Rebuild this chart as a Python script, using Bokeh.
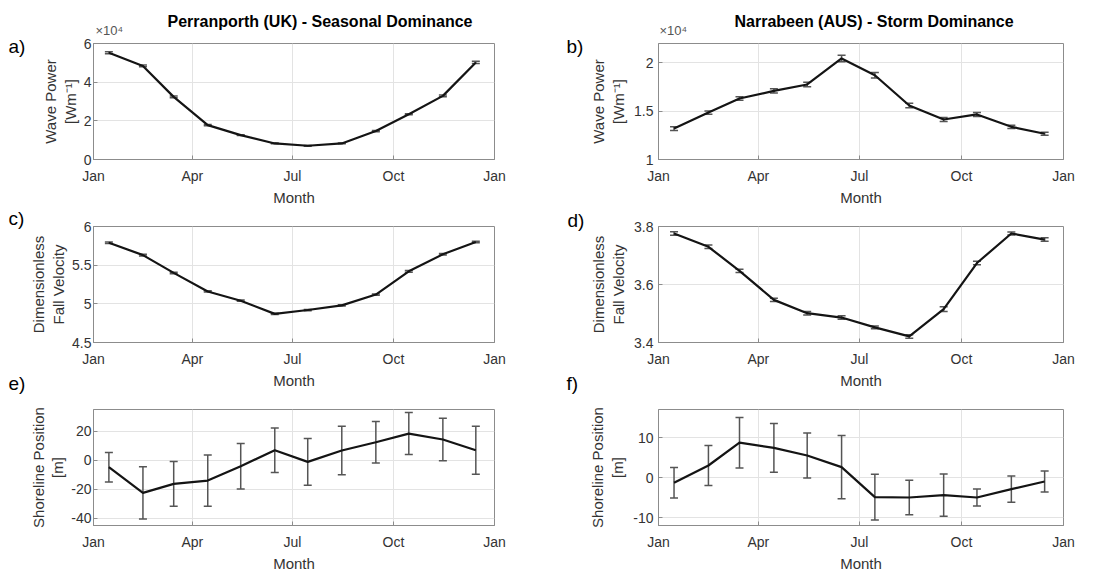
import pandas as pd
from bokeh.plotting import figure
from bokeh.models import (ColumnDataSource, FixedTicker, Label,
                          Range1d, Whisker, TeeHead)
from bokeh.layouts import column, row
from bokeh.embed import file_html
from bokeh.resources import INLINE

# ---------------- data ----------------
month_numbers = [1, 2, 3, 4, 5, 6, 7, 8, 9, 10, 11, 12]
tick_months = [1, 4, 7, 10, 13]
tick_month_labels = ["Jan", "Apr", "Jul", "Oct", "Jan"]

# Perranporth (UK) wave power [W m^-1]
perran_power = [55200, 48400, 32400, 17800, 12600, 8300, 7100, 8300, 14700, 23400, 32900, 50200]
perran_power_err = [500, 450, 400, 300, 250, 200, 200, 200, 300, 300, 400, 600]
# Narrabeen (AUS) wave power [W m^-1]
narra_power = [13200, 14860, 16310, 17100, 17760, 20450, 18720, 15590, 14140, 14660, 13380, 12660]
narra_power_err = [200, 170, 190, 210, 230, 330, 280, 230, 200, 200, 170, 150]
# Dimensionless fall velocity
perran_omega = [5.79, 5.63, 5.40, 5.16, 5.04, 4.87, 4.92, 4.98, 5.12, 5.42, 5.64, 5.80]
perran_omega_err = [0.010, 0.010, 0.010, 0.008, 0.008, 0.008, 0.008, 0.008, 0.008, 0.010, 0.010, 0.010]
narra_omega = [3.776, 3.730, 3.647, 3.547, 3.501, 3.486, 3.452, 3.421, 3.515, 3.674, 3.776, 3.755]
narra_omega_err = [0.006, 0.006, 0.006, 0.006, 0.006, 0.006, 0.005, 0.006, 0.008, 0.006, 0.005, 0.006]
# Shoreline position [m]
perran_shore = [-4.8, -22.5, -16.3, -14.0, -4.1, 6.9, -1.1, 6.7, 12.4, 18.4, 14.3, 6.9]
perran_shore_err = [10.2, 18.0, 15.4, 17.7, 15.7, 15.3, 16.1, 16.7, 14.3, 14.5, 14.6, 16.6]
narra_shore = [-1.3, 3.0, 8.7, 7.4, 5.5, 2.6, -4.9, -5.0, -4.4, -5.0, -2.9, -1.0]
narra_shore_err = [3.8, 5.0, 6.3, 6.1, 5.6, 7.9, 5.7, 4.3, 5.3, 2.1, 3.3, 2.6]

titles = ["Perranporth (UK) - Seasonal Dominance", "Narrabeen (AUS) - Storm Dominance"]
multiplier = "\u00d710\u2074"
left_letters = ["a)", "c)", "e)"]
right_letters = ["b)", "d)", "f)"]

# x positions: day of year of the 15th of each month
x_days = [pd.Timestamp(2001, m, 15).dayofyear - 1 for m in month_numbers]
x_ticks = [pd.Timestamp(2001, m, 1).dayofyear - 1 if m <= 12 else 365 for m in tick_months]

TXT = "#333333"
FONT = "Liberation Sans"
HEAD = 36


def make_panel(y, err, yr, yticks, ylabels, ylabel, width, height, left, right, top, bottom,
               side="left"):
    p = figure(width=width, height=height, output_backend="svg", toolbar_location=None,
               x_range=Range1d(0, 365), y_range=Range1d(*yr), title_location=None,
               min_border_left=left, min_border_right=right,
               min_border_top=top, min_border_bottom=bottom)
    p.background_fill_color = "white"
    p.border_fill_color = "white"
    p.outline_line_color = "#8c8c8c"
    p.outline_line_width = 1

    upper = [v + e for v, e in zip(y, err)]
    lower = [v - e for v, e in zip(y, err)]
    src = ColumnDataSource(dict(x=x_days, y=y, upper=upper, lower=lower))

    wh = Whisker(base="x", upper="upper", lower="lower", source=src, dimension="height",
                 line_color="#555555", line_width=1.5,
                 upper_head=TeeHead(size=8, line_color="#555555", line_width=1.5),
                 lower_head=TeeHead(size=8, line_color="#555555", line_width=1.5))
    p.add_layout(wh)
    p.line("x", "y", source=src, line_color="#141414", line_width=2.2)

    p.xaxis.ticker = FixedTicker(ticks=x_ticks)
    p.yaxis.ticker = FixedTicker(ticks=yticks)
    p.xaxis.major_label_overrides = {t: l for t, l in zip(x_ticks, tick_month_labels)}
    p.yaxis.major_label_overrides = {t: l for t, l in zip(yticks, ylabels)}
    p.xaxis.axis_label = "Month"
    p.yaxis.axis_label = ylabel

    for ax in p.axis:
        ax.major_tick_in = 4
        ax.major_tick_out = 0
        ax.minor_tick_line_color = None
        ax.axis_line_color = "#8c8c8c"
        ax.major_tick_line_color = "#8c8c8c"
        ax.major_label_text_color = TXT
        ax.major_label_text_font = FONT
        ax.major_label_text_font_size = "14px"
        ax.axis_label_text_color = TXT
        ax.axis_label_text_font = FONT
        ax.axis_label_text_font_size = "15px"
        ax.axis_label_text_font_style = "normal"
    p.xaxis.major_label_standoff = 8
    p.xaxis.axis_label_standoff = 2
    if side == "left":
        p.yaxis.major_label_standoff = 2
        p.yaxis.axis_label_standoff = 2
        p.yaxis.axis_label_text_line_height = 1.15
    else:
        p.yaxis.major_label_standoff = 5
        p.yaxis.axis_label_standoff = 4
        p.yaxis.axis_label_text_line_height = 1.2

    p.grid.grid_line_color = "#e3e3e3"
    p.grid.grid_line_width = 1
    return p


def blank(width, height):
    s = figure(width=width, height=height, output_backend="svg", toolbar_location=None,
               x_axis_type=None, y_axis_type=None, x_range=Range1d(0, 1), y_range=Range1d(0, 1),
               title_location=None, min_border=0, min_border_left=0, min_border_right=0,
               min_border_top=0, min_border_bottom=0)
    s.outline_line_color = None
    s.grid.visible = False
    s.background_fill_color = "white"
    s.border_fill_color = "white"
    return s


def make_strip(width, letters, xs, ys):
    s = blank(width, 574)
    for t, x, yy in zip(letters, xs, ys):
        s.add_layout(Label(x=x, y=574 - yy, x_units="screen", y_units="screen", text=t,
                           text_font=FONT, text_font_size="19px", text_color="black",
                           text_align="left", text_baseline="middle"))
    return s


def make_header(width, title, title_x, mult_x):
    # the header's frame is aligned with the panels' frames below it in the column
    h = blank(width, HEAD)
    h.add_layout(Label(x=title_x, y=HEAD - 21, x_units="screen", y_units="screen", text=title,
                       text_font=FONT, text_font_size="16px", text_font_style="bold",
                       text_color="black", text_align="left", text_baseline="middle"))
    h.add_layout(Label(x=mult_x, y=HEAD - 29.5, x_units="screen", y_units="screen", text=multiplier,
                       text_font=FONT, text_font_size="13px", text_color="#555555",
                       text_align="left", text_baseline="middle"))
    return h


# ---------------- panels ----------------
LW, RW = 25, 28
pa = make_panel(perran_power, perran_power_err, (0, 60000), [0, 20000, 40000, 60000],
                ["0", "2", "4", "6"], "Wave Power\n[Wm\u207b\u00b9]", 556 - LW, 208 - HEAD,
                93 - LW, 62, 43 - HEAD, 49)
pb = make_panel(narra_power, narra_power_err, (10000, 22000), [10000, 15000, 20000],
                ["1", "1.5", "2"], "Wave Power\n[Wm\u207b\u00b9]", 556 - RW, 208 - HEAD,
                102 - RW, 49, 43 - HEAD, 49, side="right")
pc = make_panel(perran_omega, perran_omega_err, (4.5, 6.0), [4.5, 5.0, 5.5, 6.0],
                ["4.5", "5", "5.5", "6"], "Dimensionless\nFall Velocity", 556 - LW, 183, 93 - LW, 62, 18, 49)
pd_ = make_panel(narra_omega, narra_omega_err, (3.4, 3.8), [3.4, 3.6, 3.8],
                 ["3.4", "3.6", "3.8"], "Dimensionless\nFall Velocity", 556 - RW, 183, 102 - RW, 49, 18, 49,
                 side="right")
pe = make_panel(perran_shore, perran_shore_err, (-45, 35), [-40, -20, 0, 20],
                ["-40", "-20", "0", "20"], "Shoreline Position\n[m]", 556 - LW, 183, 93 - LW, 62, 18, 49)
pf = make_panel(narra_shore, narra_shore_err, (-12, 17), [-10, 0, 10],
                ["-10", "0", "10"], "Shoreline Position\n[m]", 556 - RW, 183, 102 - RW, 49, 18, 49,
                side="right")

head_l = make_header(556 - LW, titles[0], 74, 2)
head_r = make_header(556 - RW, titles[1], 76, 1)

strip_l = make_strip(LW, left_letters, [8, 8, 8], [46, 218, 383])
strip_r = make_strip(RW, right_letters, [10, 11, 10], [46, 220, 383])

layout = row(strip_l, column(head_l, pa, pc, pe), strip_r, column(head_r, pb, pd_, pf))

open("out.html", "w").write(file_html(layout, INLINE))
